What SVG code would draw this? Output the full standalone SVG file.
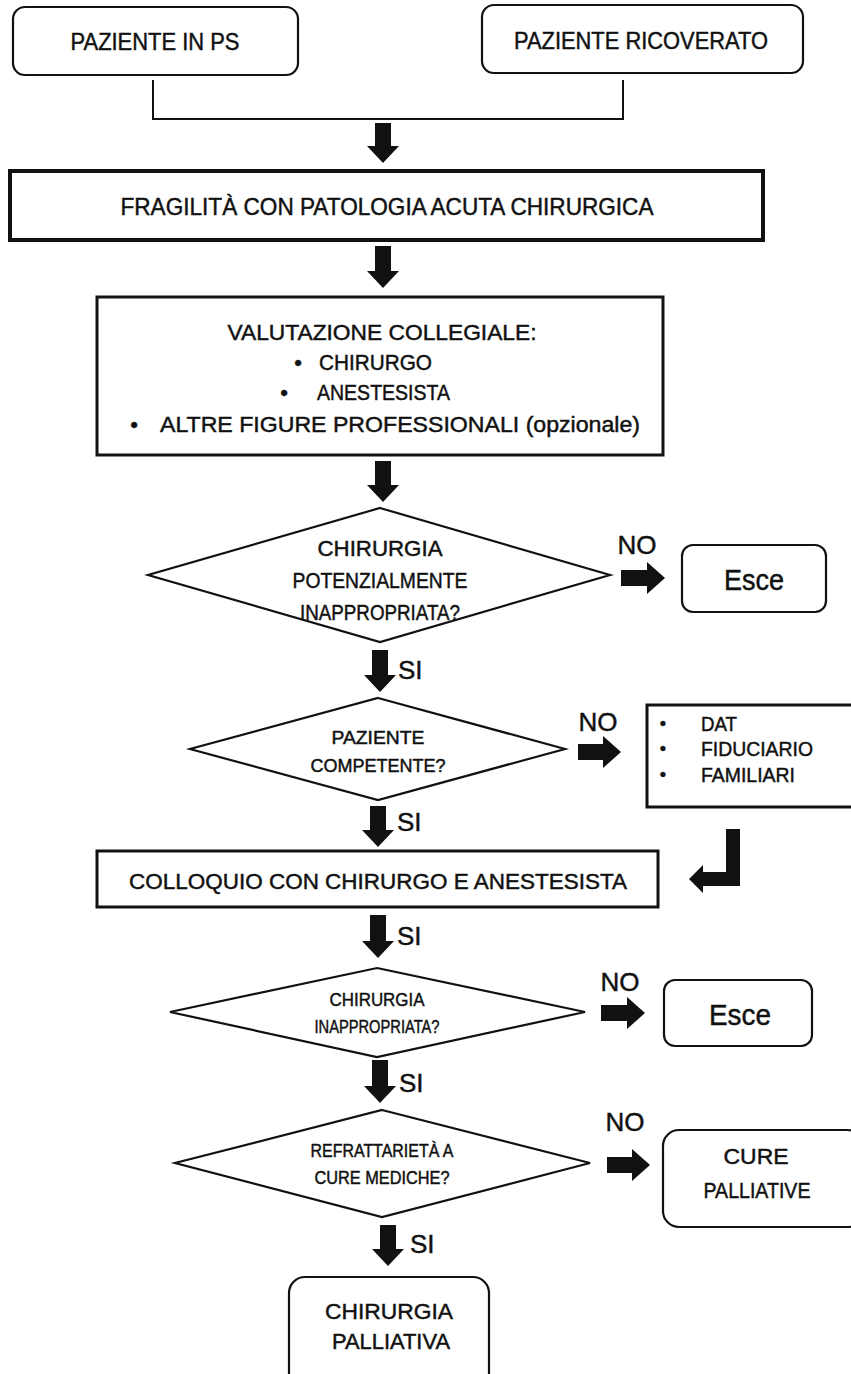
<svg xmlns="http://www.w3.org/2000/svg" width="851" height="1374" viewBox="0 0 851 1374">
<style>
text{font-family:"Liberation Sans",Arial,sans-serif;fill:#111;stroke:#111;stroke-width:0.45;text-anchor:middle}
.b{fill:#fff;stroke:#111;stroke-width:2.2}
.b3{fill:#fff;stroke:#111;stroke-width:3}
.b4{fill:#fff;stroke:#111;stroke-width:4}
.ln{fill:none;stroke:#111;stroke-width:2}
.arr{fill:#111}
.t24{font-size:24px}
.t22{font-size:22px}
.t20{font-size:20px}
.t18{font-size:18px}
.lab{font-size:26px}
.l{text-anchor:start}
</style>
<rect width="851" height="1374" fill="#fff"/>
<g id="connectors">
<polyline class="ln" points="153,80 153,119 623,119 623,80"/>
<path class="arr" d="M375,123H391V146H399L383,163L367,146H375Z"/>
<path class="arr" d="M375,246H391V271H399L383,288L367,271H375Z"/>
<path class="arr" d="M375,461H391V485H399L383,502L367,485H375Z"/>
<path class="arr" d="M372,650H388V675H396L380,692L364,675H372Z"/>
<path class="arr" d="M370,806H386V830H394L378,847L362,830H370Z"/>
<path class="arr" d="M370,915H386V941H394L378,958L362,941H370Z"/>
<path class="arr" d="M372,1060H388V1086H396L380,1103L364,1086H372Z"/>
<path class="arr" d="M380,1225H396V1249H404L388,1266L372,1249H380Z"/>
<path class="arr" d="M621,570H647V562L665,578L647,594V586H621Z"/>
<path class="arr" d="M578,744H603V736L621,752L603,768V760H578Z"/>
<path class="arr" d="M601,1005H627V997L645,1013L627,1029V1021H601Z"/>
<path class="arr" d="M607,1157H632V1149L650,1165L632,1181V1173H607Z"/>
<path class="arr" d="M726,829H740V886H703V893L689,879L703,865V872H726Z"/>
<text class="lab" x="637" y="554">NO</text>
<text class="lab" x="598" y="731">NO</text>
<text class="lab" x="620" y="991">NO</text>
<text class="lab" x="625" y="1131">NO</text>
<text class="lab l" x="398" y="679">SI</text>
<text class="lab l" x="397" y="831">SI</text>
<text class="lab l" x="397" y="945">SI</text>
<text class="lab l" x="399" y="1092">SI</text>
<text class="lab l" x="410" y="1253">SI</text>
</g>
<g id="n-ps">
<rect class="b" x="13" y="7" width="285" height="68" rx="12"/>
<text class="t24" x="155" y="50" textLength="169" lengthAdjust="spacingAndGlyphs">PAZIENTE IN PS</text>
</g>
<g id="n-ricoverato">
<rect class="b" x="482" y="5" width="321" height="68" rx="12"/>
<text class="t24" x="641" y="49" textLength="254" lengthAdjust="spacingAndGlyphs">PAZIENTE RICOVERATO</text>
</g>
<g id="n-fragilita">
<rect class="b4" x="10" y="171" width="753" height="69"/>
<text class="t24" x="387" y="215" textLength="533" lengthAdjust="spacingAndGlyphs">FRAGILITÀ CON PATOLOGIA ACUTA CHIRURGICA</text>
</g>
<g id="n-valutazione">
<rect class="b3" x="97" y="297" width="566" height="158"/>
<text class="t22" x="382" y="340" textLength="309" lengthAdjust="spacingAndGlyphs">VALUTAZIONE COLLEGIALE:</text>
<text class="t22" x="298" y="370">•</text>
<text class="t22 l" x="319" y="370" textLength="113" lengthAdjust="spacingAndGlyphs">CHIRURGO</text>
<text class="t22" x="284" y="400">•</text>
<text class="t22 l" x="317" y="400" textLength="133" lengthAdjust="spacingAndGlyphs">ANESTESISTA</text>
<text class="t22" x="134" y="432">•</text>
<text class="t22 l" x="160" y="432" textLength="480" lengthAdjust="spacingAndGlyphs">ALTRE FIGURE PROFESSIONALI (opzionale)</text>
</g>
<g id="n-chir-pot">
<polygon class="b" points="380,508 610,575 380,642 148,575"/>
<text class="t22" x="380" y="556" textLength="125" lengthAdjust="spacingAndGlyphs">CHIRURGIA</text>
<text class="t22" x="380" y="588" textLength="175" lengthAdjust="spacingAndGlyphs">POTENZIALMENTE</text>
<text class="t22" x="380" y="620" textLength="160" lengthAdjust="spacingAndGlyphs">INAPPROPRIATA?</text>
</g>
<g id="n-esce1">
<rect class="b" x="682" y="545" width="144" height="67" rx="11"/>
<text x="754" y="590" font-size="29" textLength="60" lengthAdjust="spacingAndGlyphs">Esce</text>
</g>
<g id="n-competente">
<polygon class="b" points="378,698 565,749 378,800 190,749"/>
<text class="t18" x="378" y="744" textLength="93" lengthAdjust="spacingAndGlyphs">PAZIENTE</text>
<text class="t18" x="378" y="772" textLength="135" lengthAdjust="spacingAndGlyphs">COMPETENTE?</text>
</g>
<g id="n-dat">
<rect class="b3" x="647" y="705" width="215" height="102"/>
<text class="t18" x="663" y="730">•</text>
<text class="t20 l" x="701" y="731" textLength="36" lengthAdjust="spacingAndGlyphs">DAT</text>
<text class="t18" x="663" y="755">•</text>
<text class="t20 l" x="701" y="756" textLength="112" lengthAdjust="spacingAndGlyphs">FIDUCIARIO</text>
<text class="t18" x="663" y="781">•</text>
<text class="t20 l" x="701" y="782" textLength="94" lengthAdjust="spacingAndGlyphs">FAMILIARI</text>
</g>
<g id="n-colloquio">
<rect class="b3" x="97" y="851" width="561" height="56"/>
<text class="t22" x="378" y="889" textLength="498" lengthAdjust="spacingAndGlyphs">COLLOQUIO CON CHIRURGO E ANESTESISTA</text>
</g>
<g id="n-chir-inapp">
<polygon class="b" points="377,968 585,1012 377,1057 170,1012"/>
<text class="t18" x="377" y="1006" textLength="95" lengthAdjust="spacingAndGlyphs">CHIRURGIA</text>
<text class="t18" x="377" y="1033" textLength="125" lengthAdjust="spacingAndGlyphs">INAPPROPRIATA?</text>
</g>
<g id="n-esce2">
<rect class="b" x="664" y="980" width="148" height="66" rx="11"/>
<text x="740" y="1025" font-size="29" textLength="62" lengthAdjust="spacingAndGlyphs">Esce</text>
</g>
<g id="n-refrattarieta">
<polygon class="b" points="382,1110 590,1163 382,1217 175,1163"/>
<text class="t18" x="382" y="1157" textLength="143" lengthAdjust="spacingAndGlyphs">REFRATTARIETÀ A</text>
<text class="t18" x="382" y="1184" textLength="135" lengthAdjust="spacingAndGlyphs">CURE MEDICHE?</text>
</g>
<g id="n-cure-palliative">
<rect class="b" x="663" y="1130" width="200" height="97" rx="16"/>
<text class="t22" x="756" y="1164" textLength="65" lengthAdjust="spacingAndGlyphs">CURE</text>
<text class="t22" x="757" y="1198" textLength="107" lengthAdjust="spacingAndGlyphs">PALLIATIVE</text>
</g>
<g id="n-chir-palliativa">
<rect class="b" x="289" y="1277" width="200" height="120" rx="16"/>
<text class="t22" x="389" y="1319" textLength="128" lengthAdjust="spacingAndGlyphs">CHIRURGIA</text>
<text class="t22" x="391" y="1349" textLength="118" lengthAdjust="spacingAndGlyphs">PALLIATIVA</text>
</g>
</svg>
